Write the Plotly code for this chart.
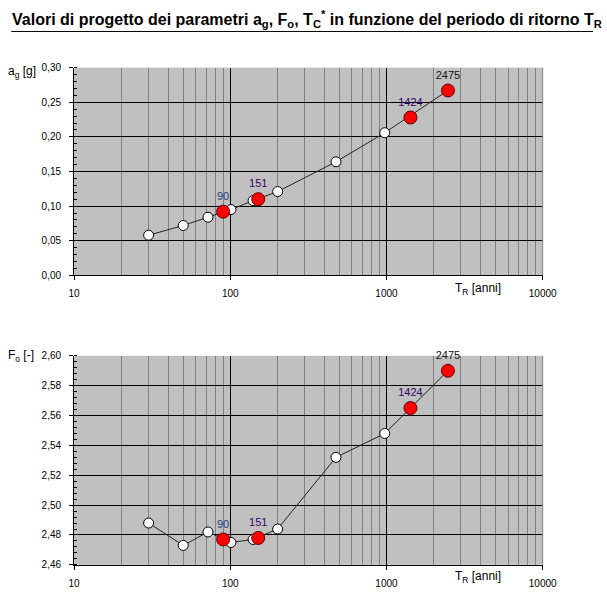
import plotly.graph_objects as go

# periodi di ritorno NTC (serie bianca) e periodi di progetto (rossi)
TR_ALL = [30, 50, 72, 101, 140, 201, 475, 975, 2475]
AG_ALL = [0.058, 0.072, 0.084, 0.095, 0.108, 0.121, 0.164, 0.206, 0.267]
FO_ALL = [2.488, 2.473, 2.482, 2.475, 2.477, 2.484, 2.532, 2.548, 2.590]

TR_PROG = [90, 151, 1424, 2475]
AG_PROG = [0.092, 0.110, 0.228, 0.267]
FO_PROG = [2.477, 2.478, 2.565, 2.590]
LBL_PROG = ["90", "151", "1424", "2475"]
LBL_COL = ["#1F3A7A", "#330066", "#330066", "#111111"]

W, H = 607, 608
FONT = "Liberation Sans, Arial, sans-serif"

# linee di griglia secondarie (2..9 per ogni decade)
MINOR_X = [m * 10 ** d for d in range(1, 4) for m in range(2, 10)]


# posizioni in pixel (misurate sulla pagina) -> coordinate paper, con correzione
def pxx(p):
    return ((p - 4.7) / 0.970) / W


def pyy(p):
    return 1 - ((p - 4.9) / 0.983) / H


XDOM = [pxx(73), pxx(543)]

fig = go.Figure()

for xa, ya, yv, yp in [("x", "y", AG_ALL, AG_PROG), ("x2", "y2", FO_ALL, FO_PROG)]:
    fig.add_trace(go.Scatter(
        x=TR_ALL, y=yv, xaxis=xa, yaxis=ya, mode="lines+markers",
        line=dict(color="#222222", width=1),
        marker=dict(size=10, color="white", line=dict(color="black", width=1)),
        showlegend=False, hoverinfo="x+y"))
    fig.add_trace(go.Scatter(
        x=TR_PROG, y=yp, xaxis=xa, yaxis=ya, mode="markers+text",
        text=LBL_PROG, textposition="top center",
        textfont=dict(size=11, color=LBL_COL, family=FONT),
        marker=dict(size=13, color="#FF0000", line=dict(color="#600000", width=1)),
        showlegend=False, cliponaxis=False, hoverinfo="x+y"))

xcommon = dict(
    type="log", range=[1, 4], domain=XDOM,
    tickvals=[10, 100, 1000, 10000], ticktext=["10", "100", "1000", "10000"],
    ticks="outside", ticklen=4, tickcolor="black",
    ticklabelstandoff=5,
    showline=True, linecolor="black", linewidth=1,
    showgrid=True, gridcolor="black", gridwidth=1,
    minor=dict(tickvals=MINOR_X, showgrid=True, gridcolor="#808080", gridwidth=1, ticks=""),
    zeroline=False, tickfont=dict(size=10, color="black", family=FONT),
)
fig.update_layout(
    xaxis=dict(anchor="y", **xcommon),
    xaxis2=dict(anchor="y2", **xcommon),
    yaxis=dict(
        domain=[pyy(275), pyy(66.7)], range=[0, 0.30], dtick=0.05, tickformat=".2f",
        ticks="outside", ticklen=4, tickcolor="black", ticklabelstandoff=6,
        minor=dict(dtick=0.01, ticks="inside", ticklen=3, tickcolor="black", showgrid=False),
        showline=True, linecolor="black", showgrid=True, gridcolor="black", gridwidth=1,
        zeroline=False, tickfont=dict(size=10, color="black", family=FONT)),
    yaxis2=dict(
        domain=[pyy(565.3), pyy(355.7)], range=[2.46, 2.60], dtick=0.02, tickformat=".2f",
        ticks="outside", ticklen=4, tickcolor="black", ticklabelstandoff=6,
        minor=dict(dtick=0.004, ticks="inside", ticklen=3, tickcolor="black", showgrid=False),
        showline=True, linecolor="black", showgrid=True, gridcolor="black", gridwidth=1,
        zeroline=False, tickfont=dict(size=10, color="black", family=FONT)),
    separators=",.",
    width=W, height=H,
    margin=dict(l=0, r=0, t=0, b=0),
    paper_bgcolor="white", plot_bgcolor="#C0C0C0",
    font=dict(family=FONT, color="black"),
)

# bordo destro grigio dell'area del grafico
for xr, yr in [("x domain", "y domain"), ("x2 domain", "y2 domain")]:
    fig.add_shape(type="line", xref=xr, yref=yr, x0=1, x1=1, y0=0, y1=1,
                  line=dict(color="#808080", width=1))

ann = [
    dict(text="<b>Valori di progetto dei parametri a<sub>g</sub>, F<sub>o</sub>, "
              "T<sub>C</sub><sup>*</sup> in funzione del periodo di ritorno T<sub>R</sub></b>",
         x=4 / W, y=1, xanchor="left", yanchor="top", font=dict(size=16)),
    dict(text="a<sub>g</sub> [g]", x=0, y=1 - 57 / H, xanchor="left", yanchor="top",
         font=dict(size=12)),
    dict(text="F<sub>o</sub> [-]", x=0, y=1 - 347 / H, xanchor="left", yanchor="top",
         font=dict(size=12)),
    dict(text="T<sub>R</sub> [anni]", x=488 / W, y=1 - 289 / H, xanchor="center",
         yanchor="middle", font=dict(size=12)),
    dict(text="T<sub>R</sub> [anni]", x=488 / W, y=1 - 582 / H, xanchor="center",
         yanchor="middle", font=dict(size=12)),
]
for a in ann:
    fig.add_annotation(xref="paper", yref="paper", showarrow=False, **a)

# sottolineatura del titolo
fig.add_shape(type="line", xref="paper", yref="paper", x0=pxx(10), x1=1,
              y0=pyy(30.5), y1=pyy(30.5), line=dict(color="black", width=1))

fig.write_html(
    "out.html",
    config={"displayModeBar": False},
    post_script=(
        "document.body.style.margin='0';"
        "document.body.style.overflow='hidden';"
        "document.documentElement.style.overflow='hidden';"
    ),
)
